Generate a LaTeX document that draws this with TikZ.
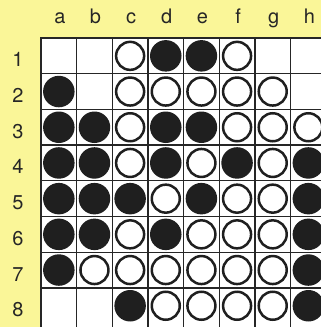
\documentclass[tikz,border=0pt]{standalone}
\usepackage{fontspec}
\setmainfont{TeX Gyre Heros}
\usepackage{tikz}
\definecolor{boardyellow}{RGB}{250,246,152}

\begin{document}
\begin{tikzpicture}[x=1pt, y=-1pt,
    gridline/.style={line width=1.3pt, black!85},
    frameline/.style={line width=2.8pt, black!85},
    blackdisc/.style={circle, fill=black!88, inner sep=0pt, minimum size=31.5pt},
    whitedisc/.style={circle, draw=black!88, fill=white, line width=2.5pt, inner sep=0pt, minimum size=28pt},
    boardlabel/.style={anchor=base, inner sep=0pt, font=\fontsize{20}{20}\selectfont, black!85}]
    \fill[boardyellow] (0,0) rectangle (321,327);
    \clip (0,0) rectangle (321,327);
    % board and grid
    \fill[white] (41,38) rectangle (330,330);
    \foreach \i in {1,...,7} {
      \draw[gridline] ({41+\i*35.65},38) -- ({41+\i*35.65},330);
      \draw[gridline] (41,{38+\i*35.7}) -- (330,{38+\i*35.7});
    }
    \draw[frameline] (41,330) -- (41,38) -- (326.2,38) -- (326.2,330);
    % square centres
    \foreach \c [count=\i] in {a,b,c,d,e,f,g,h}
      \coordinate (x-\c) at ({41+(\i-0.5)*35.65},0);
    \foreach \r in {1,...,8}
      \coordinate (y-\r) at (0,{38+(\r-0.5)*35.7});
    % labels
    \foreach \c in {a,b,c,d,e,f,g,h}
      \node[boardlabel] (col-\c) at ([xshift=1pt]x-\c |- 0,23.5) {\c};
    \foreach \r in {1,...,8}
      \node[boardlabel] (row-\r) at ([yshift=-11pt]y-\r -| 18,0) {\r};
    % discs
    \foreach \c/\r in {c/1,f/1, c/2,d/2,e/2,f/2,g/2, c/3,f/3,g/3,h/3,
        c/4,e/4,g/4, d/5,f/5,g/5, c/6,e/6,f/6,g/6,
        b/7,c/7,d/7,e/7,f/7,g/7, d/8,e/8,f/8,g/8}
      \node[whitedisc] (\c\r) at (x-\c |- y-\r) {};
    \foreach \c/\r in {d/1,e/1, a/2, a/3,b/3,d/3,e/3,
        a/4,b/4,d/4,f/4,h/4, a/5,b/5,c/5,e/5,h/5,
        a/6,b/6,d/6,h/6, a/7,h/7, c/8,h/8}
      \node[blackdisc] (\c\r) at (x-\c |- y-\r) {};
  \end{tikzpicture}
\end{document}
